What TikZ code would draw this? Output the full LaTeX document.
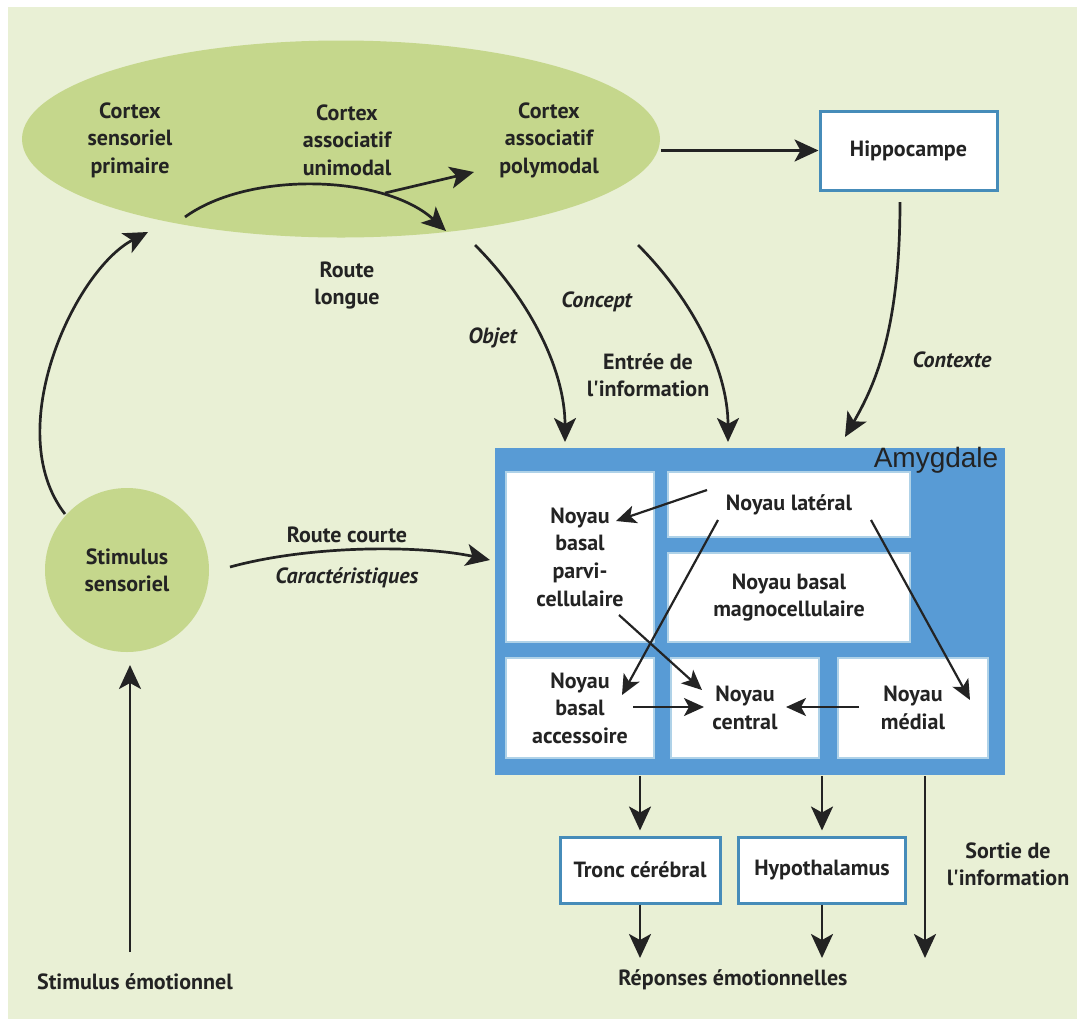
\documentclass[tikz,border=0pt]{standalone}
\usepackage{fontspec}
\setmainfont{PT Sans}
\newfontfamily\arialfont{Liberation Sans}
\usetikzlibrary{shapes.geometric, arrows.meta}

\begin{document}
\begin{tikzpicture}[x=0.5pt, y=-0.5pt, thick, font=\bfseries\fontsize{11}{13.5}\selectfont]

  % Define Colors
  \definecolor{cream}{RGB}{233,240,213}
  \definecolor{leafgreen}{RGB}{197,215,140}
  \definecolor{amygblue}{RGB}{88,155,213}
  \definecolor{frameblue}{RGB}{70,140,185}
  \definecolor{paleblue}{RGB}{175,210,232}
  \definecolor{ink}{RGB}{35,35,35}

  % Node styles
  \tikzstyle{txt}=[text=ink, align=center, inner sep=0pt]
  \tikzstyle{gbox}=[rectangle, draw=frameblue, line width=1.5pt, fill=white, text=ink, inner sep=0pt]
  \tikzstyle{nbox}=[rectangle, draw=paleblue, line width=0.6pt, fill=white, text=ink, align=center, inner sep=0pt, font=\bfseries\fontsize{11}{13.8}\selectfont]

  \tikzstyle{big_path}=[line width=1.35pt, ink, -{Stealth[length=12pt, width=11pt, inset=3pt]}]
  \tikzstyle{small_path}=[line width=1.1pt, ink, -{Stealth[length=10pt, width=9pt, inset=2.5pt]}]

  % Background
  \useasboundingbox (0,0) rectangle (1077,1019);
  \fill[white] (0,0) rectangle (1077,1019);
  \fill[cream] (8,7) rectangle (1077,1019);

  % Nodes
  \node[ellipse, fill=leafgreen, minimum width=319pt, minimum height=98.5pt] (n_cortex) at (341,139) {};
  \node[txt, font=\bfseries\fontsize{11}{13.75}\selectfont] (n_prim) at (130,140) {Cortex\\sensoriel\\primaire};
  \node[txt, font=\bfseries\fontsize{11}{13.75}\selectfont] (n_uni) at (347,140) {Cortex\\associatif\\unimodal};
  \node[txt, font=\bfseries\fontsize{11}{13.75}\selectfont] (n_poly) at (549,140) {Cortex\\associatif\\polymodal};

  \node[gbox, minimum width=88.5pt, minimum height=39.5pt] (n_hippo) at (908.5,150.5) {Hippocampe};

  \node[circle, fill=leafgreen, minimum size=82pt, txt] (n_stim) at (127,570) {Stimulus\\sensoriel};
  \node[txt] (n_emo) at (135,982) {Stimulus émotionnel};

  \node[rectangle, fill=amygblue, minimum width=255pt, minimum height=163.5pt] (n_amyg) at (750,611.5) {};
  \node[txt, font=\arialfont\fontsize{14}{16}\selectfont] (n_amyg_lbl) at (936,460) {Amygdale};

  \node[nbox, minimum width=74pt, minimum height=85pt] (n_parvi) at (580,557) {Noyau\\basal\\parvi-\\cellulaire};
  \node[nbox, minimum width=121pt, minimum height=32.5pt] (n_lat) at (789,504.5) {Noyau latéral};
  \node[nbox, minimum width=121pt, minimum height=44.5pt] (n_magno) at (789,597.5) {Noyau basal\\magnocellulaire};
  \node[nbox, minimum width=74pt, minimum height=50pt] (n_acc) at (580,708) {Noyau\\basal\\accessoire};
  \node[nbox, minimum width=74pt, minimum height=50pt] (n_cent) at (745,708) {Noyau\\central};
  \node[nbox, minimum width=75pt, minimum height=50pt] (n_med) at (913,708) {Noyau\\médial};

  \node[gbox, minimum width=80pt, minimum height=33pt] (n_tronc) at (640,870) {Tronc cérébral};
  \node[gbox, minimum width=83.5pt, minimum height=33pt] (n_hypo) at (822,870) {Hypothalamus};

  \node[txt] (n_rep) at (733,980) {Réponses émotionnelles};
  \node[txt] (n_sortie) at (1008,864) {Sortie de\\l\textquotesingle information};

  % Labels
  \node[txt] (n_longue) at (347,286) {Route\\longue};
  \node[txt] (n_objet) at (493,338) {\textit{Objet}};
  \node[txt] (n_concept) at (597,302) {\textit{Concept}};
  \node[txt] (n_entree) at (648,375) {Entrée de\\l\textquotesingle information};
  \node[txt] (n_contexte) at (952,360) {\textit{Contexte}};
  \node[txt] (n_courte) at (347,535) {Route courte};
  \node[txt] (n_carac) at (347,578) {\textit{Caractéristiques}};

  % Free ends
  \coordinate (c_long_s) at (185,217);
  \coordinate (c_long_e) at (446,231);
  \coordinate (c_uni_s) at (385,193);
  \coordinate (c_uni_e) at (474,172);
  \coordinate (c_obj_s) at (475,245);
  \coordinate (c_obj_e) at (565,442);
  \coordinate (c_con_s) at (638,245);
  \coordinate (c_con_e) at (728,442);
  \coordinate (c_ctx_s) at (900,202);
  \coordinate (c_ctx_e) at (845,437);
  \coordinate (c_sens_s) at (65,514);
  \coordinate (c_sens_e) at (148,232);
  \coordinate (c_court_s) at (230,567);
  \coordinate (c_court_e) at (490,560);
  \coordinate (c_emo_s) at (130,952);
  \coordinate (c_emo_e) at (130,665);

  % Cortex links
  \draw[big_path] (c_long_s) .. controls (250,170) and (385,175) .. (c_long_e);
  \draw[big_path] (c_uni_s) -- (c_uni_e);
  \draw[big_path] (n_hippo.west -| n_cortex.east) -- (n_hippo.west);
  \draw[big_path] (c_sens_s) .. controls (0,430) and (75,270) .. (c_sens_e);
  \draw[big_path] (c_emo_s) -- (c_emo_e);

  % Input links
  \draw[big_path] (c_obj_s) .. controls (530,300) and (565,370) .. (c_obj_e);
  \draw[big_path] (c_con_s) .. controls (693,300) and (728,370) .. (c_con_e);
  \draw[big_path] (c_ctx_s) .. controls (900,330) and (875,385) .. (c_ctx_e);
  \draw[big_path] (c_court_s) .. controls (310,545) and (420,545) .. (c_court_e);

  % Amygdala links
  \coordinate (c_a1_s) at (707,490);
  \coordinate (c_a1_e) at (616,521);
  \coordinate (c_a2_s) at (718,520);
  \coordinate (c_a2_e) at (622,695);
  \coordinate (c_a3_s) at (871,520);
  \coordinate (c_a3_e) at (970,700);
  \coordinate (c_a4_s) at (619,615);
  \coordinate (c_a4_e) at (702,690);
  \coordinate (c_a5_s) at (633,707);
  \coordinate (c_a5_e) at (704,707);
  \coordinate (c_a6_s) at (859,707);
  \coordinate (c_a6_e) at (786,707);
  \foreach \i in {1,...,6}
    \draw[small_path] (c_a\i_s) -- (c_a\i_e);

  % Output links
  \draw[big_path, shorten >=2.5pt] (n_tronc.north |- n_amyg.south) -- (n_tronc.north);
  \draw[big_path, shorten >=2.5pt] (n_hypo.north |- n_amyg.south) -- (n_hypo.north);
  \coordinate (c_out1) at (640,958);
  \coordinate (c_out2) at (822,958);
  \coordinate (c_out3) at (925,958);
  \draw[big_path] (n_tronc.south) -- (c_out1);
  \draw[big_path] (n_hypo.south) -- (c_out2);
  \draw[big_path] (c_out3 |- n_amyg.south) -- (c_out3);

\end{tikzpicture}
\end{document}
